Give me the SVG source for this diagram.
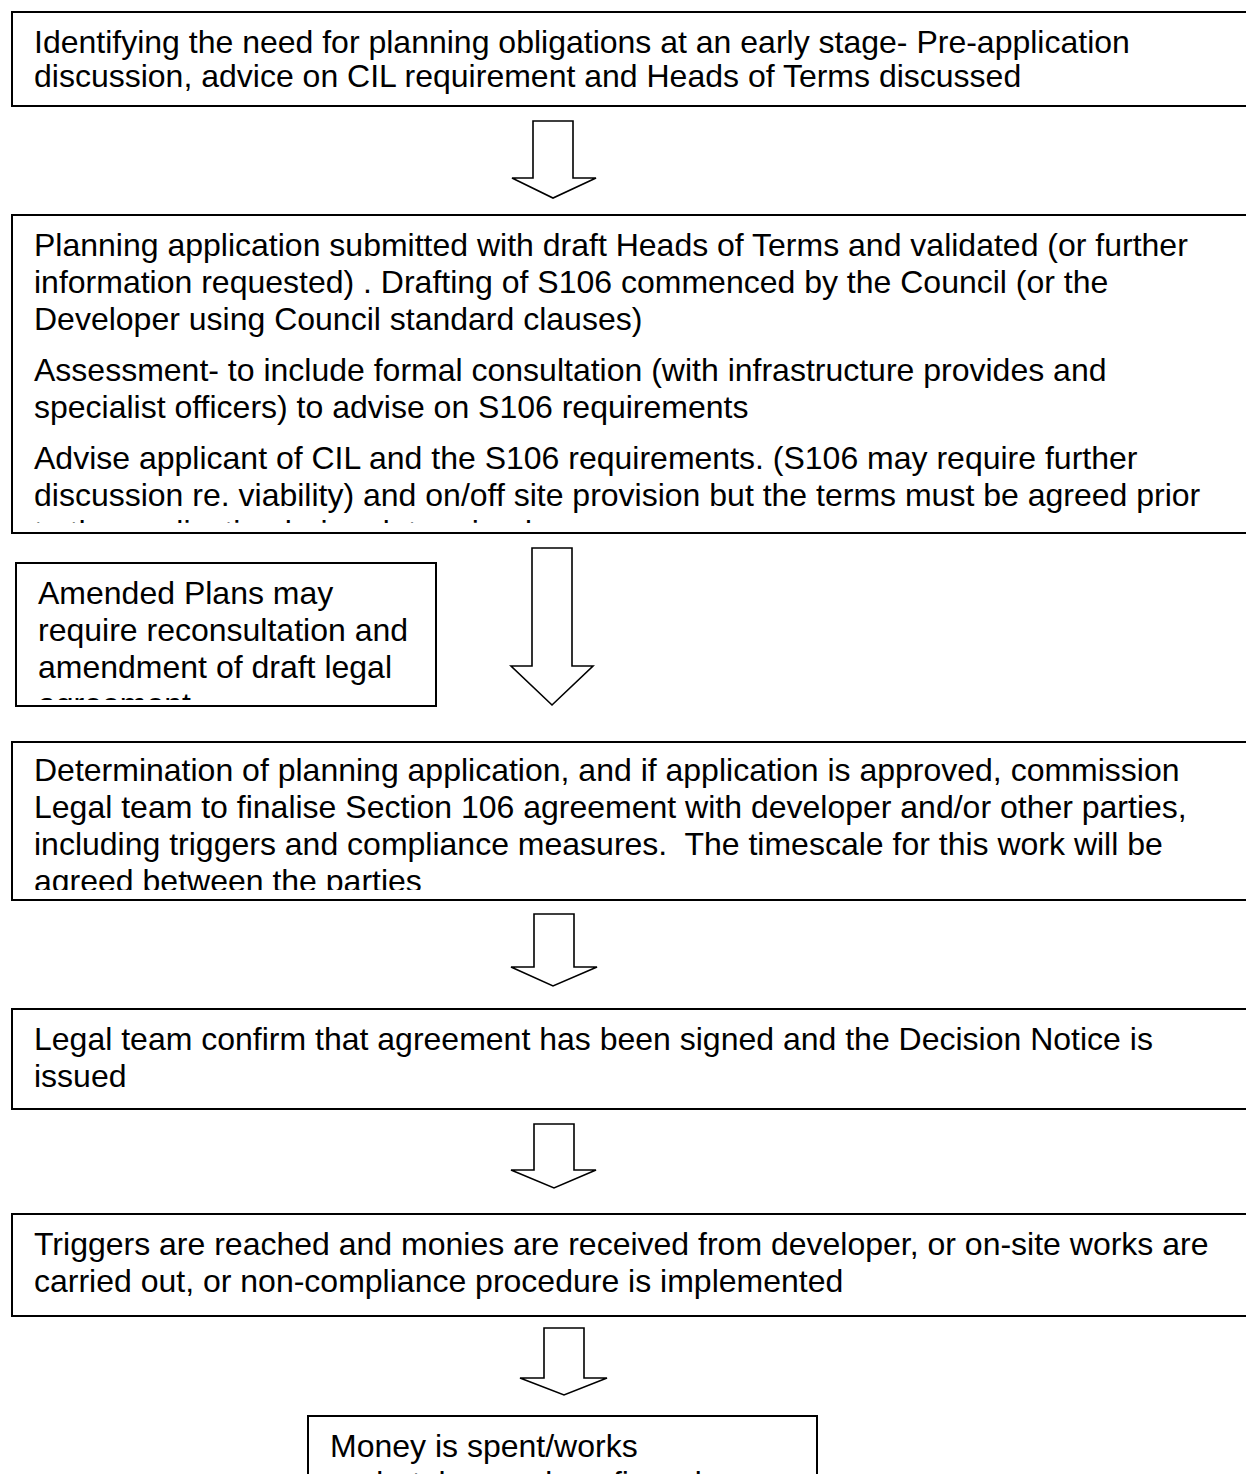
<svg xmlns="http://www.w3.org/2000/svg" width="1246" height="1474" viewBox="0 0 1246 1474">
<style>
.box{fill:#fff;stroke:#000;stroke-width:2}
.arrow{fill:#fff;stroke:#000;stroke-width:1.6;stroke-linejoin:miter}
text{font-family:"Liberation Sans",Arial,sans-serif;font-size:32px;fill:#000}
</style>
<defs>
<clipPath id="c1"><rect x="12" y="12" width="1250" height="94"/></clipPath>
<clipPath id="c2"><rect x="12" y="215" width="1250" height="308"/></clipPath>
<clipPath id="c3"><rect x="16" y="563" width="420" height="137"/></clipPath>
<clipPath id="c4"><rect x="12" y="742" width="1250" height="148"/></clipPath>
<clipPath id="c5"><rect x="12" y="1009" width="1250" height="100"/></clipPath>
<clipPath id="c6"><rect x="12" y="1214" width="1250" height="102"/></clipPath>
<clipPath id="c7"><rect x="308" y="1416" width="509" height="100"/></clipPath>
</defs>
<rect width="1246" height="1474" fill="#fff"/>

<g id="box1">
<rect class="box" x="12" y="12" width="1260" height="94"/>
<g clip-path="url(#c1)">
<text x="34" y="53">Identifying the need for planning obligations at an early stage- Pre-application</text>
<text x="34" y="87">discussion, advice on CIL requirement and Heads of Terms discussed</text>
</g>
</g>

<g id="box2">
<rect class="box" x="12" y="215" width="1260" height="318"/>
<g clip-path="url(#c2)">
<text x="34" y="256">Planning application submitted with draft Heads of Terms and validated (or further</text>
<text x="34" y="293">information requested) . Drafting of S106 commenced by the Council (or the</text>
<text x="34" y="330">Developer using Council standard clauses)</text>
<text x="34" y="381">Assessment- to include formal consultation (with infrastructure provides and</text>
<text x="34" y="418">specialist officers) to advise on S106 requirements</text>
<text x="34" y="469">Advise applicant of CIL and the S106 requirements. (S106 may require further</text>
<text x="34" y="506">discussion re. viability) and on/off site provision but the terms must be agreed prior</text>
<text x="34" y="543">to the application being determined</text>
</g>
</g>

<g id="box3">
<rect class="box" x="16" y="563" width="420" height="143"/>
<g clip-path="url(#c3)">
<text x="38" y="604">Amended Plans may</text>
<text x="38" y="641">require reconsultation and</text>
<text x="38" y="678">amendment of draft legal</text>
<text x="38" y="715">agreement</text>
</g>
</g>

<g id="box4">
<rect class="box" x="12" y="742" width="1260" height="158"/>
<g clip-path="url(#c4)">
<text x="34" y="781">Determination of planning application, and if application is approved, commission</text>
<text x="34" y="818">Legal team to finalise Section 106 agreement with developer and/or other parties,</text>
<text x="34" y="855" xml:space="preserve">including triggers and compliance measures.  The timescale for this work will be</text>
<text x="34" y="892">agreed between the parties</text>
</g>
</g>

<g id="box5">
<rect class="box" x="12" y="1009" width="1260" height="100"/>
<g clip-path="url(#c5)">
<text x="34" y="1050">Legal team confirm that agreement has been signed and the Decision Notice is</text>
<text x="34" y="1087">issued</text>
</g>
</g>

<g id="box6">
<rect class="box" x="12" y="1214" width="1260" height="102"/>
<g clip-path="url(#c6)">
<text x="34" y="1255">Triggers are reached and monies are received from developer, or on-site works are</text>
<text x="34" y="1292">carried out, or non-compliance procedure is implemented</text>
</g>
</g>

<g id="box7">
<rect class="box" x="308" y="1416" width="509" height="100"/>
<g clip-path="url(#c7)">
<text x="330" y="1457">Money is spent/works</text>
<text x="330" y="1494">undertaken and confirmed</text>
</g>
</g>

<g id="connectors">
<path class="arrow" d="M533,121 H573 V178 H596 L553,198 L512,178 H533 Z"/>
<path class="arrow" d="M532,548 H572 V666 H593 L552,705 L511,666 H532 Z"/>
<path class="arrow" d="M534,914 H574 V967 H597 L553,986 L511,967 H534 Z"/>
<path class="arrow" d="M534,1124 H574 V1170 H596 L554,1188 L511,1170 H534 Z"/>
<path class="arrow" d="M544,1328 H584 V1378 H607 L564,1395 L520,1378 H544 Z"/>
</g>
</svg>
